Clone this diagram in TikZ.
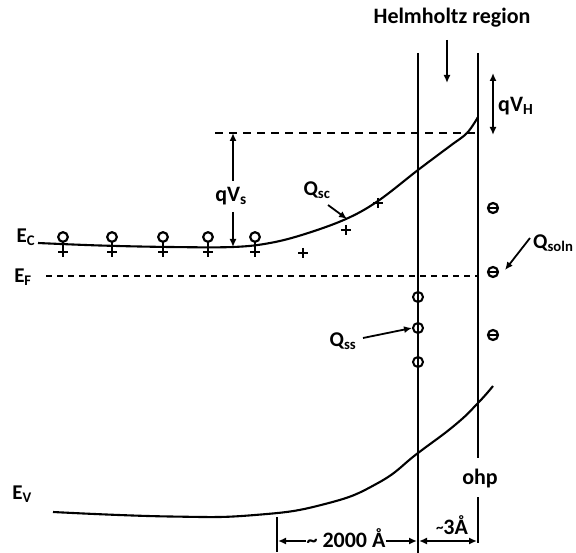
\documentclass[tikz,border=0pt]{standalone}
\usepackage{fontspec}
\setmainfont{Carlito}
\usetikzlibrary{arrows.meta}
\begin{document}
\begin{tikzpicture}[x=1pt,y=-1pt,
  lbl/.style={font=\fontsize{21}{25}\selectfont\bfseries, inner sep=0pt},
  blbl/.style={font=\fontsize{22}{26}\selectfont\bfseries, inner sep=0pt},
  band/.style={line width=2.1pt},
  arr/.style={line width=1.8pt,-{Latex[length=8pt,width=7pt]}},
  darr/.style={line width=1.8pt,{Latex[length=8pt,width=7pt]}-{Latex[length=8pt,width=7pt]}},
  lev/.style={line width=1.6pt, dash pattern=on 6pt off 5pt},
  toplev/.style={line width=1.9pt, dash pattern=on 8pt off 6pt},
  plussign/.pic={\draw[line width=2.6pt] (-5,0)--(5,0) (0,-5)--(0,5);},
  hole/.pic={\draw[line width=2.2pt] (0,0) circle (4.8);
             \draw[line width=2.4pt] (0,4.8)--(0,20) (-5,15)--(5,15);},
  minus/.pic={\draw[line width=2.2pt] (0,0) circle (5);
              \draw[line width=2.4pt] (-4,0)--(4,0);},
  sstate/.style={draw, circle, line width=2pt, minimum size=10pt, inner sep=0pt}
]
\useasboundingbox (0,0) rectangle (576,553);

% Helmholtz region label and arrow
\node[blbl] (helm) at (452,18) {Helmholtz region};
\coordinate (hA) at (447,40);
\coordinate (hB) at (447,83);
\draw[arr] (hA) -- (hB);

% interface and ohp lines
\coordinate (ifT) at (418,53);
\coordinate (ifB) at (418,553);
\draw[line width=2.6pt] (ifT) -- (ifB);
\node[blbl] (ohp) at (480,479) {ohp};
\coordinate (ohpT) at (478,53);
\coordinate (ohpB) at (478,543);
\draw[line width=1.6pt] (ohpT) -- (478,458);
\draw[line width=1.6pt] (478,497) -- (ohpB);

% qV_H
\coordinate (vhT) at (493,73);
\coordinate (vhB) at (493,135);
\draw[darr] (vhT) -- (vhB);
\node[blbl, anchor=west] (qvh) at (498,106) {qV\textsubscript{H}};

% top dashed level
\coordinate (tdL) at (215,133);
\coordinate (tdR) at (478,133);
\draw[toplev] (tdL) -- (tdR);

% qV_s
\node[blbl] (qvs) at (231,196) {qV\textsubscript{s}};
\coordinate (vsT) at (233,133);
\coordinate (vsB) at (233,247);
\draw[arr] (233,181) -- (vsT);
\draw[arr] (233,212) -- (vsB);

% E_C band
\node[lbl] (ec) at (26,237) {E\textsubscript{C}};
\draw[band] plot[smooth, tension=0.6] coordinates {(38,243) (100,245.5) (170,247) (233,247) (270,243) (305,234) (346,219) (378,201) (418,170) (450,146) (467,133) (478,117)};

% holes and ionized donors
\foreach \x in {63,112,163,208,255} \pic at (\x,237) {hole};
\pic at (303,253) {plussign};
\pic at (346,230) {plussign};
\pic at (378,203) {plussign};

% Q_sc
\node[lbl] (qsc) at (317,190) {Q\textsubscript{sc}};
\coordinate (qscT) at (347,219);
\draw[arr] (328,205) -- (qscT);

% E_F
\node[lbl] (ef) at (23,277) {E\textsubscript{F}};
\coordinate (efL) at (46,276);
\coordinate (efR) at (478,276);
\draw[lev] (efL) -- (efR);

% solution charges
\pic at (493,208) {minus};
\pic at (493,272) {minus};
\pic at (493,335) {minus};
\node[lbl, anchor=west] (qsoln) at (533,243) {Q\textsubscript{soln}};
\coordinate (qsolnT) at (505,270);
\draw[arr] (530,238) -- (qsolnT);

% surface states
\node[sstate] (ss1) at (418,297) {};
\node[sstate] (ss2) at (418,328) {};
\node[sstate] (ss3) at (418,362) {};
\node[lbl] (qss) at (343,341) {Q\textsubscript{ss}};
\draw[arr] (363,338) -- (ss2.west);

% E_V band
\node[lbl] (ev) at (22,494) {E\textsubscript{V}};
\draw[band] plot[smooth, tension=0.8] coordinates {(53,512) (170,516.5) (255,515) (325,504) (378,483) (418,453) (455,425) (478,403) (493,386)};

% bottom dimensions
\coordinate (tkT) at (277,517);
\coordinate (tkB) at (277,552);
\coordinate (tkA) at (278,541);
\coordinate (ifA) at (417,541);
\draw[line width=2pt] (tkT) -- (tkB);
\node[blbl, anchor=base] (d2000) at (346,547) {\textasciitilde{} 2000 Å};
\draw[arr] (d2000.west |- tkA) -- (tkA);
\draw[arr] (d2000.east |- ifA) -- (ifA);
\node[blbl, anchor=base] (d3) at (452,534) {\raisebox{2pt}{\fontsize{15}{15}\selectfont\textasciitilde}3Å};
\coordinate (ohpA) at (477,541);
\draw[darr] (419,541) -- (ohpA);
\end{tikzpicture}
\end{document}
